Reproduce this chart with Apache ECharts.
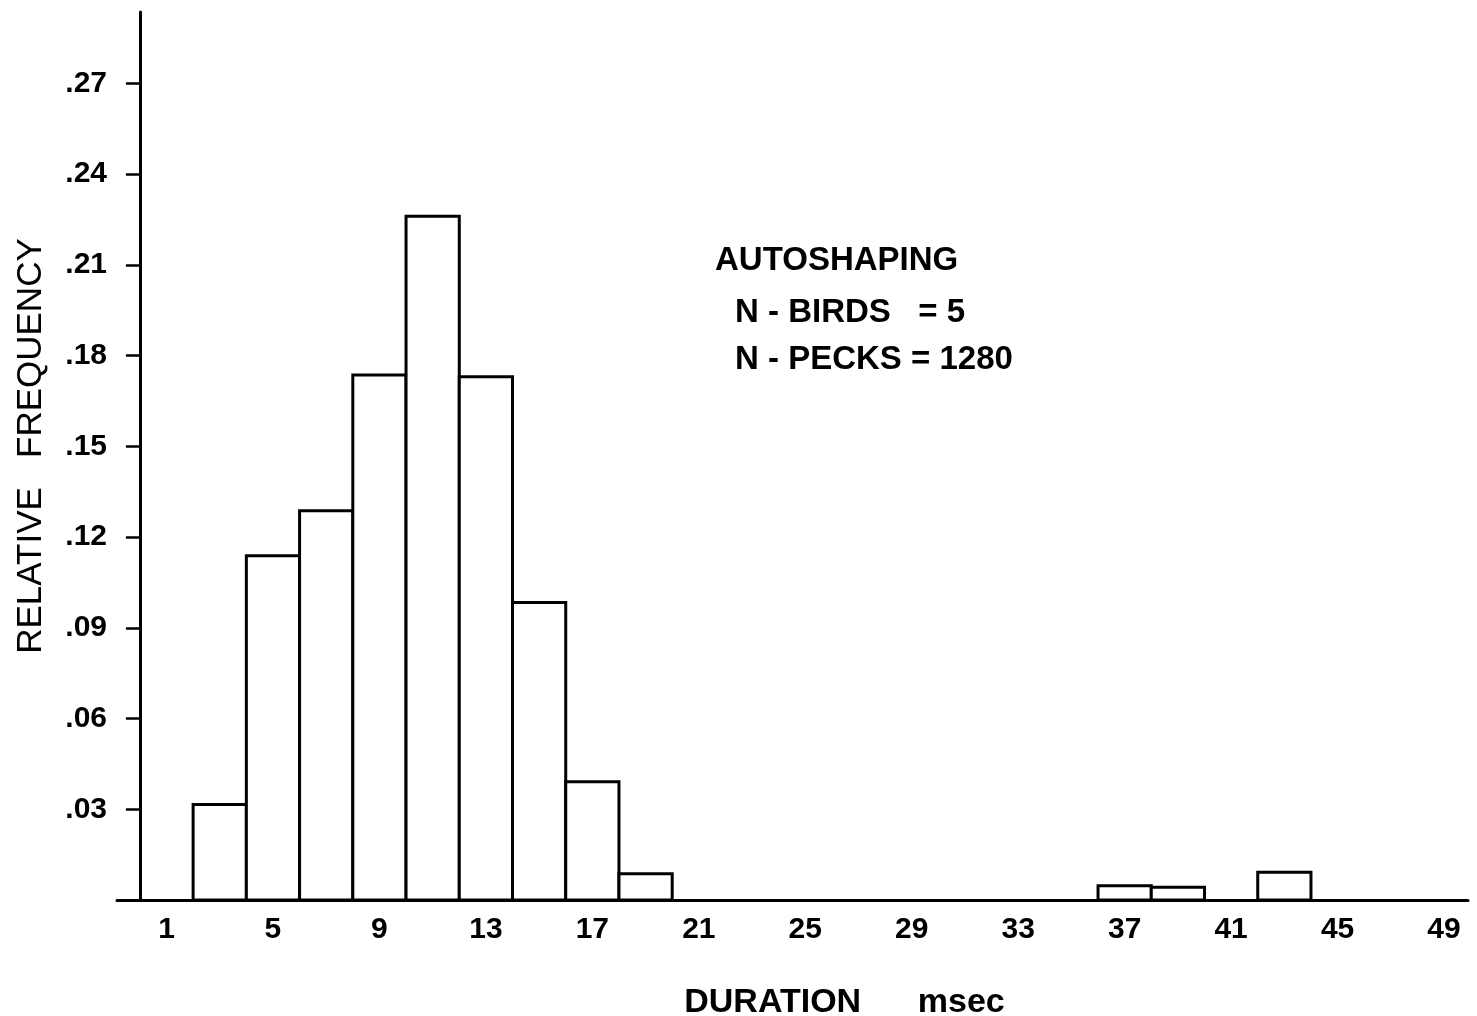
<!DOCTYPE html>
<html>
<head>
<meta charset="utf-8">
<title>Autoshaping peck duration</title>
<script src="https://cdn.jsdelivr.net/npm/echarts@6/dist/echarts.min.js"></script>
<style>
  html, body { margin: 0; padding: 0; background: #fff; }
  #chart { width: 1477px; height: 1016px; }
</style>
</head>
<body>
<div id="chart"></div>
<script>
// Histogram bins (msec), 2 msec wide
const binStart = [2, 4, 6, 8, 10, 12, 14, 16, 18, 36, 38, 42];
const binEnd   = [4, 6, 8, 10, 12, 14, 16, 18, 20, 38, 40, 44];
// Relative frequency per bin
const relFreq  = [0.0316, 0.1138, 0.1287, 0.1736, 0.2261, 0.1730, 0.0984, 0.0391, 0.0087, 0.0047, 0.0042, 0.0092];
// Axis labels
const xTickLabels = [1, 5, 9, 13, 17, 21, 25, 29, 33, 37, 41, 45, 49];
const yTickValues = [0.03, 0.06, 0.09, 0.12, 0.15, 0.18, 0.21, 0.24, 0.27];
// Annotation lines
const noteLines = ['AUTOSHAPING', 'N - BIRDS   = 5', 'N - PECKS = 1280'];
const noteTops = [244, 296, 343];

const FONT = "'Liberation Sans', Arial, Helvetica, sans-serif";
const INK = '#000';

const chart = echarts.init(document.getElementById('chart'), null, { renderer: 'canvas' });

const bins = binStart.map((s, i) => [s, binEnd[i], relFreq[i]]);

const option = {
  backgroundColor: '#fff',
  animation: false,
  grid: {
    left: 117, right: 9, top: 12, bottom: 116,
    containLabel: false, outerBoundsMode: 'none'
  },
  xAxis: {
    type: 'value',
    min: -0.86,
    max: 49.9,
    name: 'DURATION      msec',
    nameLocation: 'middle',
    nameGap: 86,
    nameMoveOverlap: false,
    nameTextStyle: {
      fontFamily: FONT, fontSize: 34, fontWeight: 'bold', color: INK,
      padding: [0, 0, 0, 104]
    },
    axisLine: { show: true, onZero: false, lineStyle: { color: INK, width: 3 } },
    axisTick: { show: false },
    splitLine: { show: false },
    axisLabel: {
      customValues: xTickLabels,
      fontFamily: FONT, fontSize: 30, fontWeight: 'bold', color: INK,
      margin: 15
    }
  },
  yAxis: {
    type: 'value',
    min: 0,
    max: 0.2936,
    name: 'RELATIVE   FREQUENCY',
    nameLocation: 'middle',
    nameRotate: 90,
    nameGap: 68,
    nameMoveOverlap: false,
    nameTextStyle: {
      fontFamily: FONT, fontSize: 35, color: INK,
      padding: [0, 0, 0, 20]
    },
    axisLine: { show: true, onZero: true, lineStyle: { color: INK, width: 3 } },
    axisTick: {
      show: true, inside: false, length: 14,
      customValues: yTickValues,
      lineStyle: { color: INK, width: 2.5 }
    },
    splitLine: { show: false },
    axisLabel: {
      customValues: yTickValues,
      formatter: v => v.toFixed(2).replace(/^0/, ''),
      fontFamily: FONT, fontSize: 30, fontWeight: 'bold', color: INK,
      margin: 10
    }
  },
  graphic: noteLines.map((t, i) => ({
    type: 'text',
    left: i === 0 ? 715 : 735,
    top: noteTops[i],
    style: {
      text: t,
      font: 'bold 33px ' + FONT,
      fill: INK
    }
  })),
  series: [{
    type: 'custom',
    data: bins,
    encode: { x: [0, 1], y: 2 },
    renderItem: function (params, api) {
      const p0 = api.coord([api.value(0), api.value(2)]);
      const p1 = api.coord([api.value(1), 0]);
      return {
        type: 'rect',
        shape: { x: p0[0], y: p0[1], width: p1[0] - p0[0], height: p1[1] - p0[1] },
        style: { fill: '#fff', stroke: INK, lineWidth: 3 }
      };
    }
  }]
};

chart.setOption(option);
</script>
</body>
</html>
